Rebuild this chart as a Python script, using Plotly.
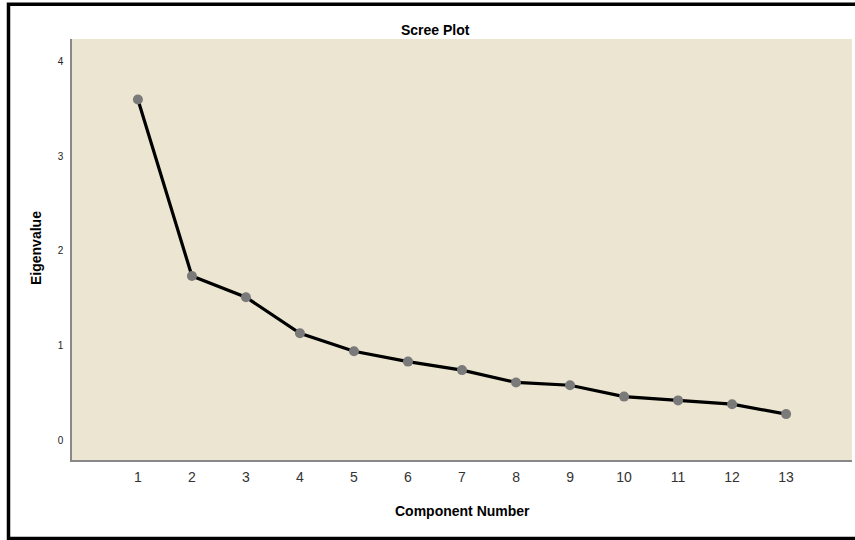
import plotly.graph_objects as go

components = list(range(1, 14))
eigenvalues = [3.60, 1.735, 1.51, 1.13, 0.94, 0.83, 0.74, 0.61, 0.58, 0.46, 0.42, 0.38, 0.275]
y_ticks = [0, 1, 2, 3, 4]
x_ticks = components

W, H = 855, 540
ML, MR, MT, MB = 72, 3, 39, 80
PW, PH = W - ML - MR, H - MT - MB

def px_x(px):
    return (px - ML) / PW

def px_y(py):
    return (H - MB - py) / PH

fig = go.Figure()
fig.add_trace(go.Scatter(
    x=components, y=eigenvalues, mode="lines+markers",
    line=dict(color="black", width=3.2),
    marker=dict(color="#7a7a7a", size=10),
    showlegend=False, hoverinfo="x+y",
))

font = "Liberation Sans, Arial, sans-serif"
fig.update_layout(
    width=W, height=H,
    margin=dict(l=ML, r=MR, t=MT, b=MB),
    paper_bgcolor="white",
    plot_bgcolor="#ebe5d1",
    font=dict(family=font, color="#222"),
    xaxis=dict(
        range=[-0.22, 14.22], tickvals=x_ticks, ticktext=[str(v) for v in x_ticks],
        showgrid=False, zeroline=False, showline=True, linecolor="#888", linewidth=1.5,
        ticks="", tickfont=dict(size=14, color="#333"), ticklabelstandoff=3,
    ),
    yaxis=dict(
        range=[-0.21, 4.24], tickvals=y_ticks, ticktext=[str(v) for v in y_ticks],
        showgrid=False, zeroline=False, showline=True, linecolor="#888", linewidth=1.5,
        ticks="", tickfont=dict(size=10, color="#222"), ticklabelstandoff=5,
    ),
    annotations=[
        dict(text="<b>Scree Plot</b>", x=px_x(435), y=px_y(30), xref="paper", yref="paper",
             showarrow=False, font=dict(size=14, color="black"), xanchor="center", yanchor="middle"),
        dict(text="<b>Component Number</b>", x=px_x(462), y=px_y(511), xref="paper", yref="paper",
             showarrow=False, font=dict(size=14, color="black"), xanchor="center", yanchor="middle"),
        dict(text="<b>Eigenvalue</b>", x=px_x(36), y=px_y(248), xref="paper", yref="paper",
             showarrow=False, textangle=-90, font=dict(size=14, color="black"),
             xanchor="center", yanchor="middle"),
    ],
    shapes=[
        dict(type="rect", xref="paper", yref="paper",
             x0=px_x(8.5), x1=px_x(870), y0=px_y(4.3), y1=px_y(538.5),
             line=dict(color="black", width=3.5), fillcolor="rgba(0,0,0,0)", layer="above"),
    ],
)

fig.write_html(
    "out.html",
    config={"displayModeBar": False},
    post_script="document.body.style.margin='0';document.body.style.padding='0';document.body.style.overflow='hidden';",
)
